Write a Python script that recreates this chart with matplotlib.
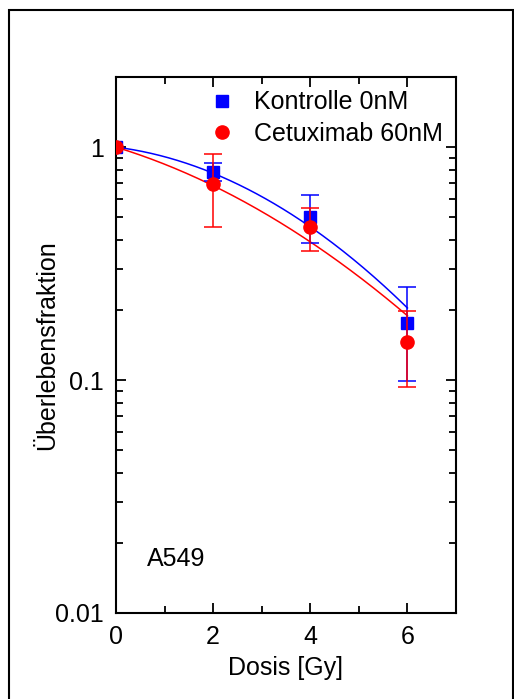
import numpy as np
import matplotlib
matplotlib.use("Agg")
import matplotlib.pyplot as plt
from matplotlib.patches import Rectangle
from matplotlib.ticker import FixedLocator, LogLocator, NullFormatter

plt.rcParams["font.family"] = ["Liberation Sans", "DejaVu Sans"]

# data
dose = [0, 2, 4, 6]
ctrl_sf = [1.0, 0.78, 0.50, 0.176]
ctrl_err_up = [np.nan, 0.077, 0.124, 0.076]
ctrl_err_lo = [np.nan, 0.065, 0.113, 0.077]
cetux_sf = [1.0, 0.694, 0.454, 0.146]
cetux_err_up = [np.nan, 0.239, 0.093, 0.052]
cetux_err_lo = [np.nan, 0.239, 0.095, 0.053]

# linear-quadratic fit parameters (alpha, beta)
ctrl_lq = (0.061, 0.034)
cetux_lq = (0.147, 0.0218)

BLUE = "#0000ff"
RED = "#ff0000"
FS = 18

fig = plt.figure(figsize=(5.14, 6.99), dpi=100)
ax = fig.add_axes([116 / 514, 1 - 613 / 699, 340 / 514, 536 / 699])

d = np.linspace(0, 6, 200)
for (a, b), col in [(ctrl_lq, BLUE), (cetux_lq, RED)]:
    ax.plot(d, np.exp(-(a * d + b * d ** 2)), color=col, lw=1.1, zorder=2)

ax.errorbar(dose, ctrl_sf, yerr=[ctrl_err_lo, ctrl_err_up], fmt="s", color=BLUE,
            ms=8.5, capsize=6.5, elinewidth=1.1, capthick=1.1, zorder=3)
ax.errorbar(dose, cetux_sf, yerr=[cetux_err_lo, cetux_err_up], fmt="o", color=RED,
            ms=9.5, capsize=6.5, elinewidth=1.1, capthick=1.1, zorder=4)

ax.set_yscale("log")
ax.set_xlim(0, 7)
ax.set_ylim(0.01, 2)

ax.xaxis.set_major_locator(FixedLocator([0, 2, 4, 6]))
ax.xaxis.set_minor_locator(FixedLocator([1, 3, 5, 7]))
ax.set_yticks([0.01, 0.1, 1])
ax.set_yticklabels(["0.01", "0.1", "1"])
ax.yaxis.set_minor_locator(LogLocator(base=10, subs=np.arange(2, 10)))
ax.yaxis.set_minor_formatter(NullFormatter())

ax.tick_params(which="both", direction="in", top=True, right=True,
               labelsize=FS, width=1.3)
ax.tick_params(axis="x", which="both", pad=9)
ax.tick_params(axis="y", which="both", pad=9)
ax.tick_params(which="major", length=7)
ax.tick_params(which="minor", length=5)
for s in ax.spines.values():
    s.set_linewidth(1.5)

ax.set_xlabel("Dosis [Gy]", fontsize=FS, labelpad=5)
ax.set_ylabel("Überlebensfraktion", fontsize=FS, labelpad=-3)

ax.text(0.09, 0.1, "A549", transform=ax.transAxes, fontsize=FS,
        ha="left", va="center")

h1 = plt.Line2D([], [], marker="s", ls="none", color=BLUE, ms=8.5)
h2 = plt.Line2D([], [], marker="o", ls="none", color=RED, ms=9.5)
ax.legend([h1, h2], ["Kontrolle 0nM", "Cetuximab 60nM"], frameon=False,
          fontsize=FS, loc="upper left", bbox_to_anchor=(0.23, 1.003),
          handlelength=1.0, handletextpad=0.8, labelspacing=0.3,
          borderaxespad=0.2)

fig.add_artist(Rectangle((9 / 514, -0.01), 504 / 514, 1 - 10 / 699 + 0.01,
                         transform=fig.transFigure, fill=False, lw=1.5,
                         ec="black", clip_on=False))

fig.savefig("out.png", dpi=100)
